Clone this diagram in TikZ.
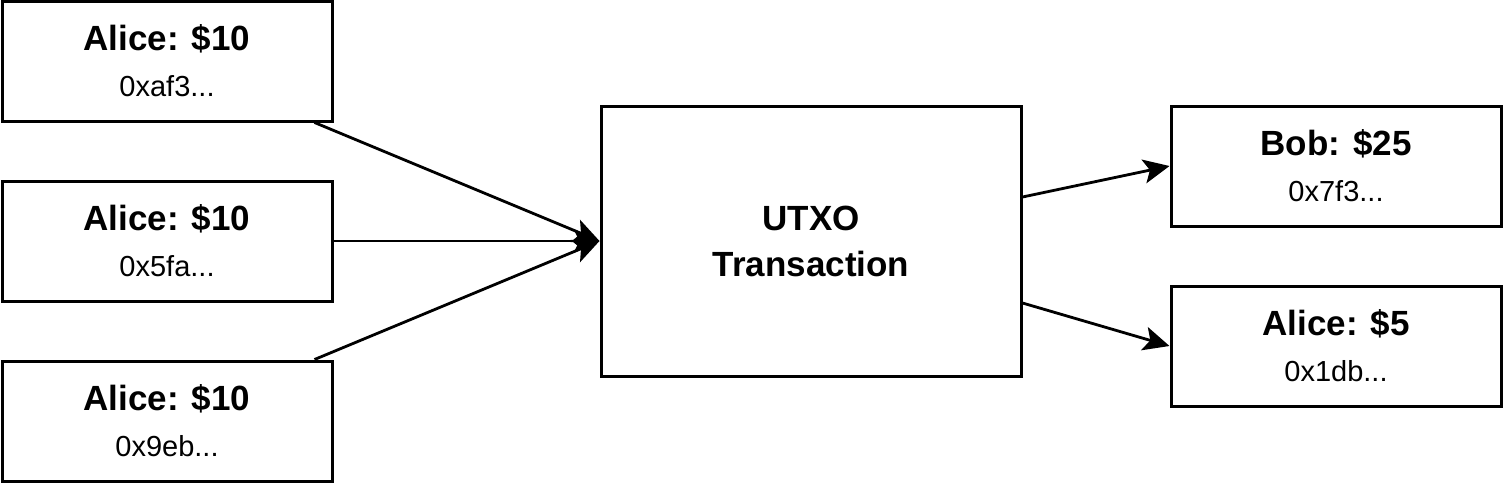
\documentclass[tikz,border=0pt]{standalone}
\usepackage{fontspec}
\setmainfont{Liberation Sans}
\usetikzlibrary{arrows.meta,calc}
\begin{document}
\begin{tikzpicture}[x=1pt,y=-1pt,
  box/.style={draw,line width=3pt,rectangle,inner sep=0pt,align=center,font=\fontsize{35}{46}\selectfont},
  small/.style={box,minimum width=330pt,minimum height=120pt},
  conn/.style={line width=2.8pt,-{Stealth[length=26pt,width=24pt,inset=6pt]}},
]
\useasboundingbox (0,0) rectangle (1503,483);
\newcommand{\twolines}[2]{{\bfseries #1}\\{\fontsize{29}{46}\selectfont #2}}
\node[small] (a1) at (167,61) {\twolines{Alice: \$10}{0xaf3...}};
\node[small] (a2) at (167,241) {\twolines{Alice: \$10}{0x5fa...}};
\node[small] (a3) at (167,421) {\twolines{Alice: \$10}{0x9eb...}};
\node[box,minimum width=420pt,minimum height=270pt] (u) at (811,241)
  {{\bfseries UTXO}\\{\bfseries Transaction}};
\node[small] (b) at (1336,166) {\twolines{Bob: \$25}{0x7f3...}};
\node[small] (a5) at (1336,346) {\twolines{Alice: \$5}{0x1db...}};
\coordinate (s1) at ($(a1.south east)+(-19,0)$);
\coordinate (s3) at ($(a3.north east)+(-19,0)$);
\coordinate (o1) at ($(u.east)+(0,-44)$);
\coordinate (o2) at ($(u.east)+(0,62)$);
\draw[conn] (s1) -- (u.west);
\draw[conn] (a2.east) -- (u.west);
\draw[conn] (s3) -- (u.west);
\draw[conn] (o1) -- (b.west);
\draw[conn] (o2) -- (a5.west);
\end{tikzpicture}
\end{document}
